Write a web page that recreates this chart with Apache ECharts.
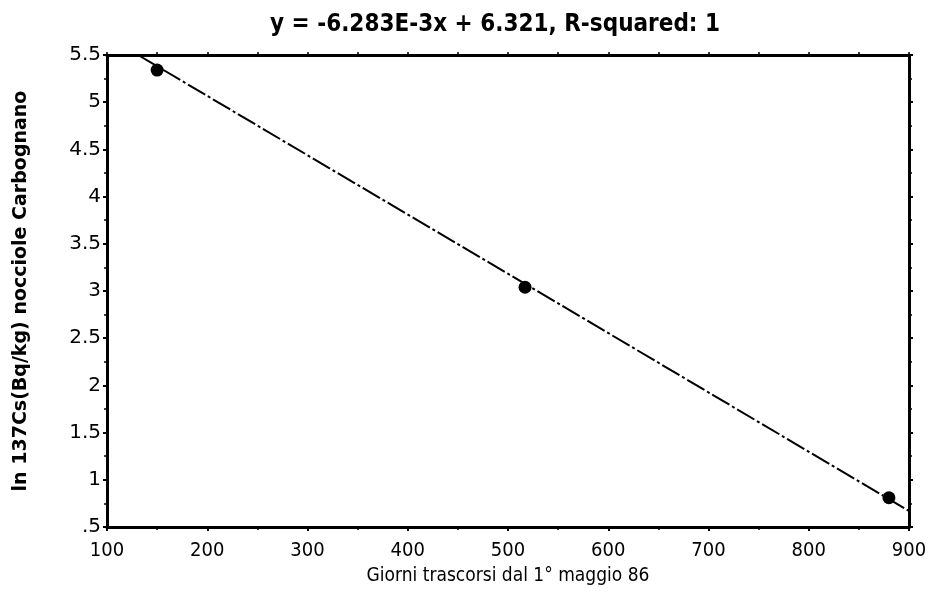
<!DOCTYPE html>
<html>
<head>
<meta charset="utf-8">
<script src="https://cdn.jsdelivr.net/npm/echarts@6/dist/echarts.min.js"></script>
<style>
  html, body { margin: 0; padding: 0; background: #fff; }
  #chart { width: 931px; height: 596px; }
</style>
</head>
<body>
<div id="chart"></div>
<script>
  // measured points (days since 1 May 86, ln 137Cs)
  var days = [150, 517, 880];
  var lnCs = [5.34, 3.04, 0.81];
  // fitted line end points
  var fitX = [131, 900];
  var fitY = [5.5, 0.67];

  var chart = echarts.init(document.getElementById('chart'));

  var fontX = 'DejaVu Sans Condensed, DejaVu Sans, sans-serif';
  var axisLine = { show: true, lineStyle: { color: '#000', width: 3 } };
  var tick = { show: true, inside: false, length: 4, lineStyle: { color: '#000', width: 2 } };
  var minor = { show: true, splitNumber: 2, length: 3, lineStyle: { color: '#000', width: 1.5 } };

  var option = {
    backgroundColor: '#fff',
    animation: false,
    title: {
      text: 'y = -6.283E-3x + 6.321, R-squared: 1',
      left: 490,
      textAlign: 'center',
      top: 8,
      textStyle: { fontFamily: fontX, fontWeight: 'bold', fontSize: 24, color: '#000' }
    },
    grid: { left: 107, right: 22, top: 55, bottom: 69 },
    xAxis: [
      {
        type: 'value',
        min: 100, max: 900, interval: 100,
        name: 'Giorni trascorsi dal 1° maggio 86',
        nameLocation: 'middle',
        nameGap: 40,
        nameTextStyle: { fontFamily: fontX, fontSize: 19, color: '#000' },
        axisLine: axisLine,
        axisTick: tick,
        minorTick: minor,
        splitLine: { show: false },
        axisLabel: { fontFamily: fontX, fontSize: 20, color: '#000', margin: 14 }
      },
      {
        type: 'value',
        position: 'top',
        min: 100, max: 900, interval: 100,
        axisLine: axisLine,
        axisTick: { show: true, length: 3, lineStyle: { color: '#000', width: 1.5 } },
        minorTick: minor,
        splitLine: { show: false },
        axisLabel: { show: false }
      }
    ],
    yAxis: [
      {
        type: 'value',
        min: 0.5, max: 5.5, interval: 0.5,
        name: 'ln 137Cs(Bq/kg) nocciole Carbognano',
        nameLocation: 'middle',
        nameGap: 76,
        nameTextStyle: { fontFamily: 'DejaVu Sans, sans-serif', fontWeight: 'bold', fontSize: 19, color: '#000' },
        axisLine: axisLine,
        axisTick: tick,
        minorTick: minor,
        splitLine: { show: false },
        axisLabel: {
          fontFamily: 'DejaVu Sans, sans-serif', fontSize: 20, color: '#000', margin: 6,
          formatter: function (v) { return v === 0.5 ? '.5' : String(v); }
        }
      },
      {
        type: 'value',
        position: 'right',
        min: 0.5, max: 5.5, interval: 0.5,
        axisLine: axisLine,
        axisTick: tick,
        minorTick: minor,
        splitLine: { show: false },
        axisLabel: { show: false }
      }
    ],
    series: [
      {
        name: 'fit',
        type: 'line',
        data: fitX.map(function (x, i) { return [x, fitY[i]]; }),
        symbol: 'none',
        lineStyle: { color: '#000', width: 2, type: [20, 3, 3, 3] },
        z: 2
      },
      {
        name: 'dati',
        type: 'scatter',
        data: days.map(function (x, i) { return [x, lnCs[i]]; }),
        symbol: 'circle',
        symbolSize: 13,
        itemStyle: { color: '#000', opacity: 1 },
        z: 3
      }
    ]
  };

  chart.setOption(option);
</script>
</body>
</html>
